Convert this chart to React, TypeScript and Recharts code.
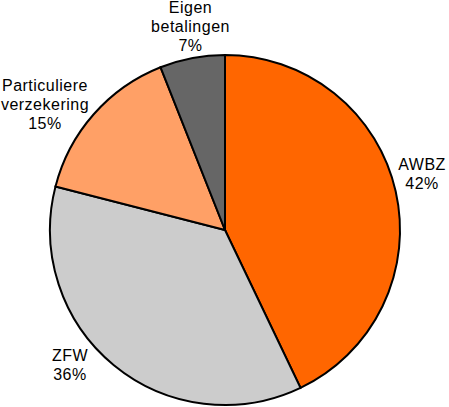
import React from 'react';
import { PieChart, Pie, Cell } from 'recharts';

// Financing sources (share of total)
const sources = ['AWBZ', 'ZFW', 'Particuliere verzekering', 'Eigen betalingen'];
const shares = [42.9, 36.1, 15.0, 6.0];
const shareLabels = ['42%', '36%', '15%', '7%'];
const labelLines = [['AWBZ'], ['ZFW'], ['Particuliere', 'verzekering'], ['Eigen', 'betalingen']];

const colors = ['#FF6600', '#CCCCCC', '#FFA066', '#666666'];
// nudges from the polar anchor point to the label block (center x, first baseline)
const labelNudge = [
  [2, -16],
  [-28, -24],
  [-30, -7],
  [3, -21],
];

const RADIAN = Math.PI / 180;

const data = sources.map((name, i) => ({ name, value: shares[i] }));

function renderLabel(props: any) {
  const { cx, cy, midAngle, outerRadius, index } = props;
  const r = outerRadius + 25;
  const x = cx + r * Math.cos(-midAngle * RADIAN) + labelNudge[index][0];
  const y = cy + r * Math.sin(-midAngle * RADIAN) + labelNudge[index][1];
  const lines = [...labelLines[index], shareLabels[index]];
  return (
    <text
      key={'lbl-' + index}
      x={x}
      y={y}
      textAnchor="middle"
      fill="#000"
      fontSize={16}
      letterSpacing={0.5}
      fontFamily="'Liberation Sans', Arial, sans-serif"
    >
      {lines.map((t, j) => (
        <tspan key={j} x={x} dy={j === 0 ? 0 : 19}>
          {t}
        </tspan>
      ))}
    </text>
  );
}

export default function App() {
  return (
    <div style={{ position: 'absolute', left: 0, top: 0, width: 449, height: 407, background: '#fff' }}>
      <PieChart width={449} height={407} margin={{ top: 0, right: 0, bottom: 0, left: 0 }}>
        <Pie
          data={data}
          dataKey="value"
          nameKey="name"
          cx={225}
          cy={230}
          outerRadius={175}
          startAngle={90}
          endAngle={-270}
          stroke="#000"
          strokeWidth={2}
          label={renderLabel}
          labelLine={false}
          isAnimationActive={false}
        >
          {data.map((d, i) => (
            <Cell key={d.name} fill={colors[i]} />
          ))}
        </Pie>
      </PieChart>
    </div>
  );
}
